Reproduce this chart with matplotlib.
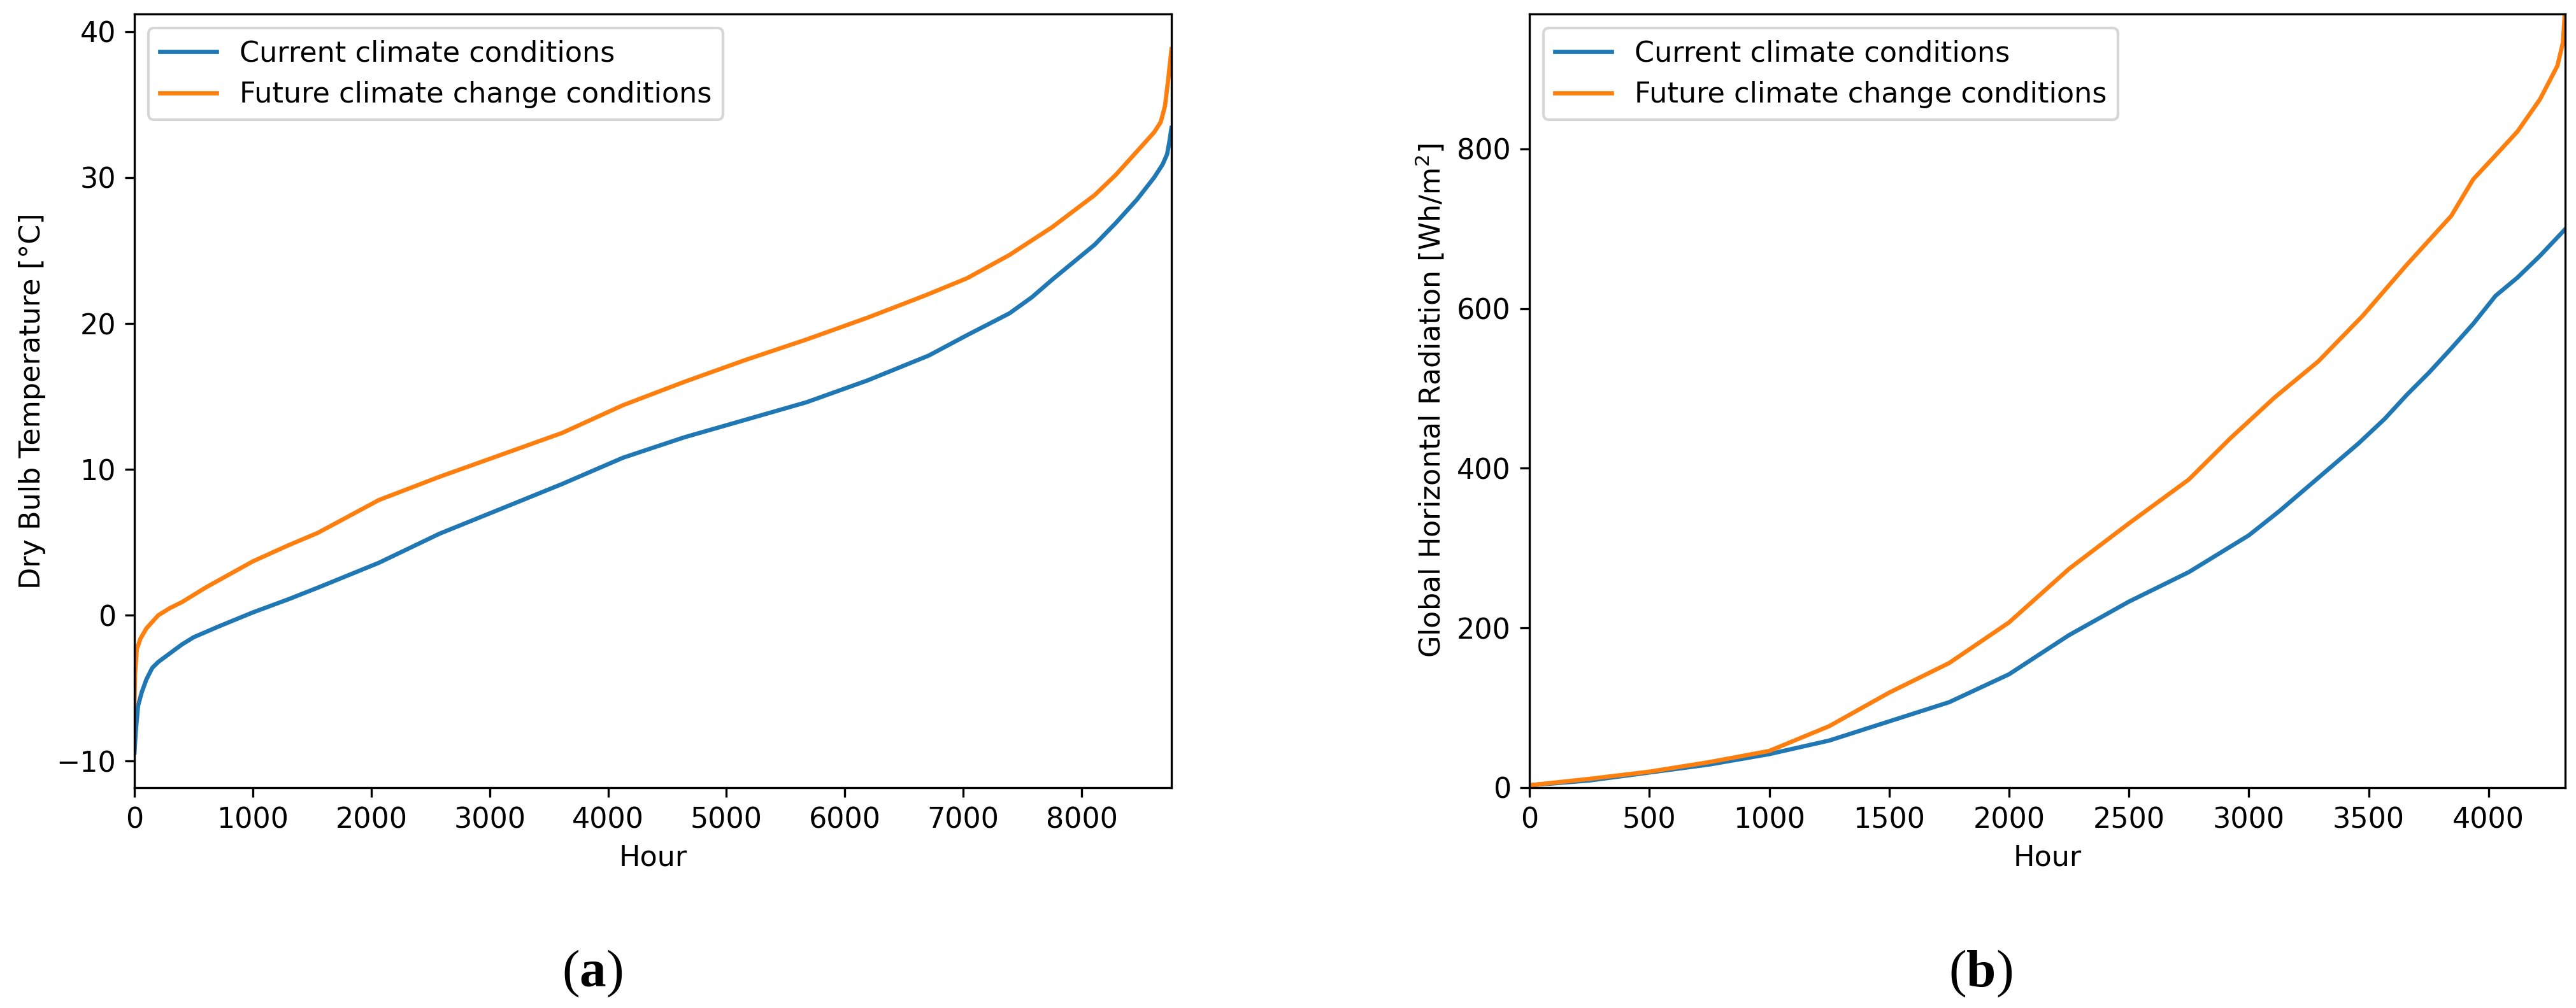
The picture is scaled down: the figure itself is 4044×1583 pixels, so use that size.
import numpy as np
import matplotlib
matplotlib.use('Agg')
import matplotlib.pyplot as plt

# ---- data (sorted duration curves) ----
# (a) dry bulb temperature, hours 0..8760
temp_hours_cur = [0, 10, 30, 60, 100, 150, 200, 300, 400, 500, 700, 1000, 1300, 1550,
                  2064, 2578, 3096, 3612, 4126, 4644, 5160, 5675, 6192, 6708, 7032,
                  7200, 7391, 7580, 7751, 8110, 8290, 8468, 8612, 8684, 8722, 8740, 8759]
temp_cur = [-9.4, -8.0, -6.2, -5.3, -4.4, -3.6, -3.2, -2.6, -2.0, -1.5, -0.8, 0.2, 1.1, 1.9,
            3.6, 5.6, 7.3, 9.0, 10.8, 12.2, 13.4, 14.6, 16.1, 17.8, 19.2,
            19.9, 20.7, 21.8, 23.0, 25.4, 26.9, 28.5, 30.0, 30.9, 31.6, 32.4, 33.4]

temp_hours_fut = [0, 5, 20, 50, 100, 200, 300, 400, 600, 800, 1000, 1300, 1548,
                  2064, 2578, 3096, 3612, 4126, 4644, 5160, 5675, 6192, 6672, 7032,
                  7391, 7751, 8110, 8290, 8468, 8612, 8668, 8704, 8731, 8759]
temp_fut = [-6.0, -4.0, -2.3, -1.6, -0.9, 0.0, 0.5, 0.9, 1.9, 2.8, 3.7, 4.8, 5.65,
            7.9, 9.5, 11.0, 12.5, 14.4, 16.0, 17.5, 18.9, 20.4, 21.9, 23.1,
            24.7, 26.6, 28.8, 30.2, 31.8, 33.1, 33.8, 34.9, 36.7, 38.8]

# (b) global horizontal radiation, daylight hours only
rad_hours_cur = [0, 250, 500, 750, 1000, 1250, 1500, 1750, 2000, 2250, 2500, 2750, 3000,
                 3130, 3457, 3567, 3659, 3752, 3844, 3936, 4029, 4121, 4214, 4318]
rad_cur = [3, 9, 19, 29, 42, 59, 83, 107, 142, 191, 233, 270, 316,
           347, 431, 462, 492, 520, 550, 581, 616, 639, 666, 699]

rad_hours_fut = [0, 250, 500, 750, 1000, 1250, 1500, 1750, 2000, 2250, 2500, 2750, 2921,
                 3105, 3290, 3475, 3659, 3844, 3936, 4029, 4121, 4214, 4287, 4310, 4318]
rad_fut = [3, 11, 20, 32, 46, 77, 119, 156, 207, 274, 331, 386, 437,
           488, 534, 591, 655, 716, 762, 792, 822, 862, 904, 933, 969]

labels = ['Current climate conditions', 'Future climate change conditions']

plt.rcParams['font.size'] = 10.7
plt.rcParams['mathtext.fontset'] = 'custom'
plt.rcParams['mathtext.rm'] = 'Liberation Serif'
plt.rcParams['mathtext.bf'] = 'Liberation Serif:bold'

fig = plt.figure(figsize=(4045 / 300, 1583 / 300), dpi=300)
ax1 = fig.add_axes([0.0522, 0.2186, 0.4025, 0.7675])
ax2 = fig.add_axes([0.5936, 0.2186, 0.4020, 0.7675])

lw = 1.6
ax1.plot(temp_hours_cur, temp_cur, color='#1f77b4', lw=lw, label=labels[0])
ax1.plot(temp_hours_fut, temp_fut, color='#ff7f0e', lw=lw, label=labels[1])
ax1.set_xlim(0, 8760)
ax1.set_xlabel('Hour')
ax1.set_ylabel('Dry Bulb Temperature [°C]')
ax1.legend(loc='upper left')

ax2.plot(rad_hours_cur, rad_cur, color='#1f77b4', lw=lw, label=labels[0])
ax2.plot(rad_hours_fut, rad_fut, color='#ff7f0e', lw=lw, label=labels[1])
ax2.set_xlim(0, 4320)
ax2.set_ylim(0, max(rad_fut))
ax2.set_xlabel('Hour')
ax2.set_ylabel('Global Horizontal Radiation [Wh/m$^2$]')
# superscript stays in the sans font
ax2.yaxis.label.set_math_fontfamily('dejavusans')
ax2.legend(loc='upper left')

fig.text(0.2299, 0.0347, r'$\mathrm{(}\mathbf{a}\mathrm{)}$', fontsize=20, ha='center', va='center')
fig.text(0.7686, 0.0347, r'$\mathrm{(}\mathbf{b}\mathrm{)}$', fontsize=20, ha='center', va='center')

fig.savefig('out.png', dpi=300)
